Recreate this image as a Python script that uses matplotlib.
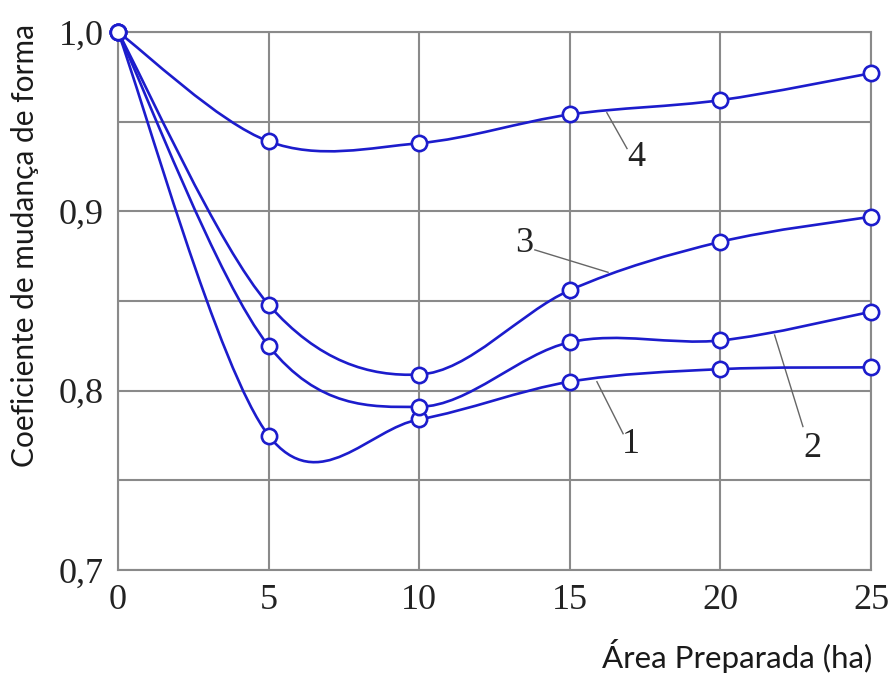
import numpy as np
import matplotlib.pyplot as plt
from matplotlib.path import Path
from matplotlib.patches import PathPatch

# Data (area in ha, shape change coefficient)
area = [0, 5, 10, 15, 20, 25]
curve_1 = [1.0, 0.775, 0.784, 0.805, 0.812, 0.813]
curve_2 = [1.0, 0.825, 0.791, 0.827, 0.828, 0.844]
curve_3 = [1.0, 0.848, 0.809, 0.856, 0.883, 0.897]
curve_4 = [1.0, 0.939, 0.938, 0.954, 0.962, 0.977]

x_ticks = [0, 5, 10, 15, 20, 25]
y_ticks = [0.7, 0.8, 0.9, 1.0]
y_tick_labels = ["0,7", "0,8", "0,9", "1,0"]
y_grid_extra = [0.75, 0.85, 0.95]

# curve labels: (text, text position, leader line start, leader line end)
labels = [
    ("1", (17.03, 0.770), (15.9, 0.805), (16.77, 0.776)),
    ("2", (23.07, 0.768), (21.8, 0.831), (22.74, 0.780)),
    ("3", (13.48, 0.882), (16.27, 0.866), (13.84, 0.8785)),
    ("4", (17.2, 0.930), (16.23, 0.955), (16.9, 0.935)),
]

blue = "#1c1ccc"
grid_col = "#8a8a8a"


def smooth_path(x, y):
    # Catmull-Rom through the points, drawn as cubic Bezier segments
    pts = np.column_stack([x, y]).astype(float)
    padded = np.vstack([pts[0], pts, pts[-1]])
    verts = [pts[0]]
    codes = [Path.MOVETO]
    for i in range(len(pts) - 1):
        p0, p1, p2, p3 = padded[i], padded[i + 1], padded[i + 2], padded[i + 3]
        c1 = p1 + (p2 - p0) / 6.0
        c2 = p2 - (p3 - p1) / 6.0
        verts += [c1, c2, p2]
        codes += [Path.CURVE4] * 3
    return Path(verts, codes)


fig = plt.figure(figsize=(8.92, 6.79), dpi=100)
ax = fig.add_axes([118 / 892, 1 - 570 / 679, (871 - 118) / 892, (570 - 32) / 679])

for yg in y_grid_extra + y_ticks:
    ax.axhline(yg, color=grid_col, lw=1.5, zorder=1)
for xg in x_ticks:
    ax.axvline(xg, color=grid_col, lw=1.5, zorder=1)

for ys in [curve_1, curve_2, curve_3, curve_4]:
    patch = PathPatch(smooth_path(area, ys), facecolor="none", edgecolor=blue,
                      lw=1.9, zorder=3, clip_on=False)
    ax.add_patch(patch)
    ax.plot(area, ys, linestyle="none", marker="o", markersize=11,
            markerfacecolor="white", markeredgecolor=blue, markeredgewidth=1.9,
            zorder=4, clip_on=False)

for txt, pos, start, end in labels:
    ax.plot([start[0], end[0]], [start[1], end[1]], color="#666666", lw=1.0, zorder=2)
    ax.text(pos[0], pos[1], txt, ha="center", va="center", fontsize=26,
            family="Liberation Serif", color="#222222", zorder=5)

ax.set_xlim(0, 25)
ax.set_ylim(0.7, 1.0)
ax.set_xticks(x_ticks)
ax.set_xticklabels([str(v) for v in x_ticks])
ax.set_yticks(y_ticks)
ax.set_yticklabels(y_tick_labels)
ax.tick_params(length=0, labelsize=26, colors="#222222")
ax.tick_params(axis="x", pad=10)
ax.tick_params(axis="y", pad=10)
for lab in ax.get_xticklabels() + ax.get_yticklabels():
    lab.set_family("Liberation Serif")
for sp in ax.spines.values():
    sp.set_color(grid_col)
    sp.set_linewidth(1.5)

fig.text(872 / 892, 1 - 656 / 679, "Área Preparada (ha)", ha="right", va="center",
         fontsize=22.5, family="Lato", color="#1a1a1a")
fig.text(25 / 892, 1 - 245 / 679, "Coeficiente de mudança de forma", ha="center",
         va="center", rotation=90, fontsize=21.5, family="Lato", color="#1a1a1a")

fig.savefig("out.png", dpi=100)
